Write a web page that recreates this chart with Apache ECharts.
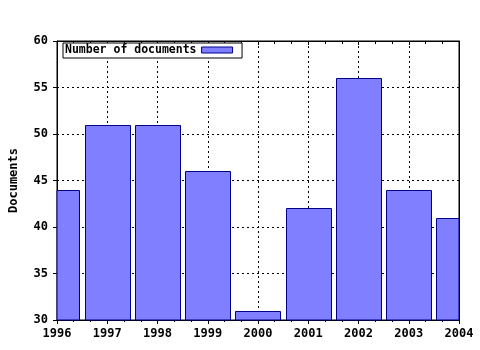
<!DOCTYPE html>
<html><head><meta charset="utf-8">
<script src="https://cdn.jsdelivr.net/npm/echarts@6/dist/echarts.min.js"></script>
<style>html,body{margin:0;padding:0;background:#fff}#c{width:480px;height:350px}</style>
</head><body><div id="c"></div>
<script>
const years = [1996, 1997, 1998, 1999, 2000, 2001, 2002, 2003, 2004];
const documents = [44, 51, 51, 46, 31, 42, 56, 44, 41];
const seriesName = 'Number of documents';
const yAxisName = 'Documents';

const font = {fontFamily: 'DejaVu Sans Mono', fontWeight: 'bold', fontSize: 12, color: '#000'};
const barColor = '#7f7fff', barBorder = '#000088';
const chart = echarts.init(document.getElementById('c'));
chart.setOption({
  animation: false,
  backgroundColor: '#fff',
  grid: {left: 57, right: 21, top: 41, bottom: 30, show: true, borderColor: '#000', borderWidth: 1},
  legend: {
    left: 63, top: 43, orient: 'horizontal', align: 'right',
    itemWidth: 31, itemHeight: 6, itemGap: 9,
    padding: [1, 9, 2, 2], borderColor: '#000', borderWidth: 1, borderRadius: 0,
    backgroundColor: '#fff',
    textStyle: Object.assign({}, font, {fontSize: 11.5}),
    data: [{name: seriesName, icon: 'rect', itemStyle: {color: barColor, borderColor: barBorder, borderWidth: 1}}]
  },
  xAxis: [{
    type: 'value', min: 1996, max: 2004, interval: 1, position: 'bottom',
    axisLine: {show: true, lineStyle: {color: '#000'}},
    axisTick: {show: true, length: 4, lineStyle: {color: '#000'}},
    minorTick: {show: true, splitNumber: 3, length: 2, lineStyle: {color: '#000'}},
    axisLabel: Object.assign({}, font, {margin: 8, formatter: v => String(v)}),
    splitLine: {show: true, lineStyle: {color: '#000', type: [2, 3], width: 1}}
  }, {
    type: 'value', min: 1996, max: 2004, interval: 1, position: 'top',
    axisLine: {show: true, lineStyle: {color: '#000'}},
    axisTick: {show: true, inside: true, length: 4, lineStyle: {color: '#000'}},
    minorTick: {show: true, splitNumber: 3, length: 3, lineStyle: {color: '#000'}},
    axisLabel: {show: false}, splitLine: {show: false}
  }],
  yAxis: [{
    type: 'value', min: 30, max: 60, interval: 5,
    name: yAxisName, nameLocation: 'middle', nameGap: 37, nameRotate: 90,
    nameTextStyle: font,
    axisLine: {show: true, lineStyle: {color: '#000'}},
    axisTick: {show: true, length: 4, lineStyle: {color: '#000'}},
    axisLabel: Object.assign({}, font, {margin: 9}),
    splitLine: {show: true, lineStyle: {color: '#000', type: [2, 3], width: 1}}
  }, {
    type: 'value', min: 30, max: 60, interval: 5, position: 'right',
    axisLine: {show: true, lineStyle: {color: '#000'}},
    axisTick: {show: false}, axisLabel: {show: false}, splitLine: {show: false}
  }],
  series: [{
    name: seriesName, type: 'custom', xAxisIndex: 0, yAxisIndex: 0,
    itemStyle: {color: barColor, borderColor: barBorder, borderWidth: 1},
    renderItem: function (params, api) {
      const x = api.value(0), y = api.value(1);
      const top = api.coord([x, y]);
      const base = api.coord([x, 30]);
      const w = api.size([0.9, 0])[0];
      const rect = echarts.graphic.clipRectByRect(
        {x: Math.round(top[0] - w / 2) + 0.5, y: Math.round(top[1]) + 0.5, width: Math.round(w), height: base[1] - top[1]},
        {x: params.coordSys.x, y: params.coordSys.y, width: params.coordSys.width, height: params.coordSys.height}
      );
      return rect && {type: 'rect', shape: rect, style: {fill: barColor, stroke: barBorder, lineWidth: 1}};
    },
    encode: {x: 0, y: 1},
    data: years.map((y, i) => [y, documents[i]])
  }]
});
</script></body></html>
